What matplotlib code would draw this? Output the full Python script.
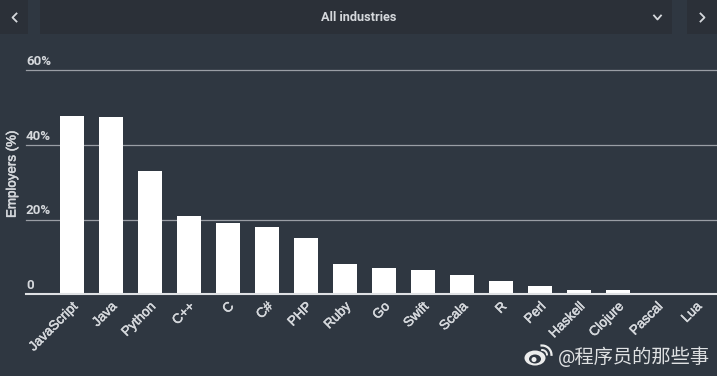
import matplotlib
matplotlib.use('Agg')
import matplotlib.pyplot as plt
import matplotlib.patheffects as pe
from matplotlib.lines import Line2D
from matplotlib.patches import Rectangle, Ellipse, Arc

languages = ['JavaScript', 'Java', 'Python', 'C++', 'C', 'C#', 'PHP', 'Ruby', 'Go',
             'Swift', 'Scala', 'R', 'Perl', 'Haskell', 'Clojure', 'Pascal', 'Lua']
employers = [47.8, 47.5, 33, 21, 19.2, 18, 15, 8.2, 7.1, 6.5, 5.2, 3.6, 2.2, 1.2, 1.2, 0, 0]
y_ticks = [0, 20, 40, 60]
y_labels = ['0', '20%', '40%', '60%']
title = 'All industries'
watermark = '@程序员的那些事'

W, H = 717, 376
BG = '#2f3741'
HEAD = '#2b3038'
TXT = '#d5d8dc'

plt.rcParams['font.family'] = ['Roboto', 'Noto Sans CJK SC', 'DejaVu Sans']

fig = plt.figure(figsize=(W / 100, H / 100), dpi=100, facecolor=BG)
ax = fig.add_axes([26 / W, 1 - 294.4 / H, (W - 26) / W, 224 / H], facecolor='none')

ax.bar(range(len(languages)), employers, width=24 / 39, color='white', zorder=3)
ax.set_xlim((26 - 72) / 39, (W - 72) / 39)
ax.set_ylim(0, 60)

for t in y_ticks[1:]:
    ax.axhline(t, color='#9a9ea5', lw=0.9, zorder=1, clip_on=False)
for s in ['top', 'left', 'right']:
    ax.spines[s].set_visible(False)
ax.spines['bottom'].set_color('#dfe1e4')
ax.spines['bottom'].set_linewidth(1.5)
ax.spines['bottom'].set_zorder(4)

# thin outline thickens the regular face to look like the blurry original
thick = [pe.withStroke(linewidth=0.35, foreground=TXT)]

ax.set_yticks([])
ax.set_xticks(range(len(languages)))
ax.set_xticklabels(languages, rotation=45, ha='right', va='top', rotation_mode='anchor',
                   fontsize=9.7, color=TXT, family=['Liberation Sans'], path_effects=thick)
ax.tick_params(axis='x', length=0, pad=4.5)

# y labels sit above the grid lines
for t, lab in zip(y_ticks, y_labels):
    ax.annotate(lab, (0, t), xycoords=('axes fraction', 'data'), xytext=(0, 1.8),
                textcoords='offset points', fontsize=9.6, fontweight='bold', color=TXT,
                va='bottom', ha='left')
fig.text(12.5 / W, 1 - 174 / H, 'Employers (%)', rotation=90, fontsize=9.6, color=TXT,
         family=['Liberation Sans'], ha='center', va='center', path_effects=thick)

# header panels
for x0, x1 in [(0, 28), (40, 672), (687, 717)]:
    fig.add_artist(Rectangle((x0 / W, 1 - 34 / H), (x1 - x0) / W, 34 / H, transform=fig.transFigure,
                             facecolor=HEAD, edgecolor='none', zorder=0))
fig.text(358.5 / W, 1 - 17.5 / H, title, fontsize=9.2, fontweight='bold', color=TXT,
         ha='center', va='center')


def chevron(xs, ys):
    fig.add_artist(Line2D([x / W for x in xs], [1 - y / H for y in ys], color=TXT, lw=1.3,
                          transform=fig.transFigure))


chevron([16.5, 12.5, 16.5], [13.5, 17.5, 21.5])
chevron([654, 657.5, 661], [15.5, 19.5, 15.5])
chevron([700.5, 704.5, 700.5], [13.5, 17.5, 21.5])

# weibo mark
WM = '#eceded'
px = fig.transFigure
fig.add_artist(Ellipse((535 / W, 1 - 358 / H), 21 / W, 15 / H, transform=px,
                       facecolor=WM, edgecolor='none'))
fig.add_artist(Ellipse((535 / W, 1 - 359 / H), 12 / W, 9 / H, transform=px,
                       facecolor=BG, edgecolor='none'))
fig.add_artist(Ellipse((534 / W, 1 - 359.5 / H), 5 / W, 5 / H, transform=px,
                       facecolor=WM, edgecolor='none'))
fig.add_artist(Arc((542 / W, 1 - 355 / H), 19 / W, 19 / H, theta1=-10, theta2=95, transform=px,
                   color=WM, lw=1.6))
fig.add_artist(Arc((542 / W, 1 - 355 / H), 10 / W, 10 / H, theta1=-10, theta2=95, transform=px,
                   color=WM, lw=1.4))

fig.text(557.5 / W, 1 - 357 / H, watermark, fontsize=13.9, color='#dfe1e3', ha='left', va='center')

fig.savefig('out.png', dpi=100, facecolor=BG)
